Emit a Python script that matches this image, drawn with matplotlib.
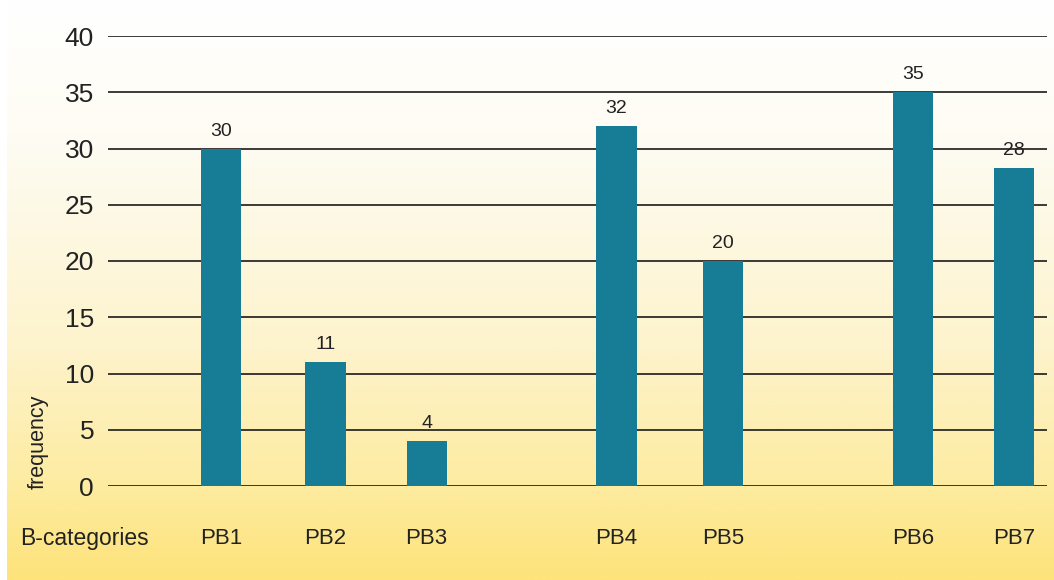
import matplotlib.pyplot as plt
import numpy as np
from matplotlib.colors import LinearSegmentedColormap

plt.rcParams['font.family'] = ['Liberation Sans', 'DejaVu Sans']

categories = ["PB1", "PB2", "PB3", "PB4", "PB5", "PB6", "PB7"]
values = [30, 11, 4, 32, 20, 35, 28.3]
value_labels = ["30", "11", "4", "32", "20", "35", "28"]
# bars sit in three groups, so positions are not evenly spaced
xpos = [0, 1.01, 1.99, 3.83, 4.86, 6.70, 7.68]

fig = plt.figure(figsize=(10.54, 5.8), dpi=100)

# background gradient, white at the top to yellow at the bottom
bg = fig.add_axes([7 / 1054, 0, 1 - 7 / 1054, 1], zorder=0)
cmap = LinearSegmentedColormap.from_list(
    "bg", [(0, "#fde37a"), (0.17, "#fdeca2"), (0.4, "#fdf3cc"),
           (0.75, "#fefcf2"), (1, "#ffffff")])
grad = np.linspace(0, 1, 256).reshape(-1, 1)
bg.imshow(grad, aspect="auto", cmap=cmap, origin="lower", extent=[0, 1, 0, 1])
bg.axis("off")

ax = fig.add_axes([108 / 1054, 1 - 486 / 580, (1047 - 108) / 1054, 450 / 580], zorder=1)
ax.patch.set_alpha(0)
ax.bar(xpos, values, width=0.39, color="#177d96", zorder=3)
for x, v, lab in zip(xpos, values, value_labels):
    ax.text(x, v + 0.8, lab, ha="center", va="bottom", fontsize=14, color="#222222")

ax.set_ylim(0, 40)
ax.set_xlim(-1.097, 8.0)
ax.set_yticks(range(0, 41, 5))
ax.yaxis.grid(True, color="#1a1a1a", linewidth=1.2, zorder=1)
ax.set_axisbelow(True)
ax.tick_params(axis="y", length=0, labelsize=19, pad=10, colors="#222222")
ax.set_xticks(xpos)
ax.set_xticklabels(categories)
ax.tick_params(axis="x", length=0, labelsize=16, pad=30, colors="#222222")
for s in ax.spines.values():
    s.set_visible(False)

fig.text(20 / 1054, 1 - 538 / 580, "B-categories", fontsize=16.5, color="#222222", va="center", ha="left")
fig.text(38 / 1054, 1 - 442 / 580, "frequency", fontsize=15.5, color="#222222",
         rotation=90, va="center", ha="center")

plt.savefig("out.png", dpi=100)
